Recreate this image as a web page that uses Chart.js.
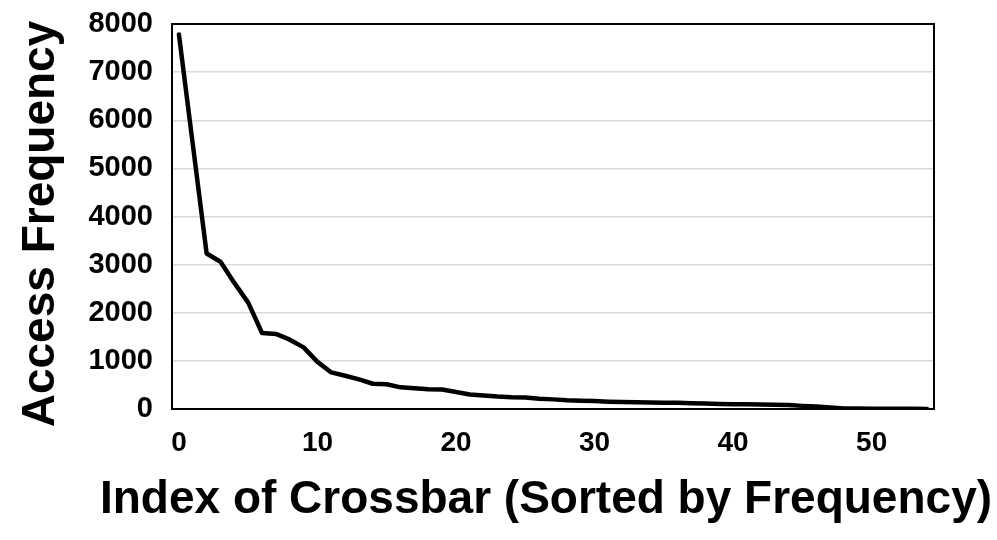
<!DOCTYPE html>
<html>
<head>
<meta charset="utf-8">
<script src="https://cdn.jsdelivr.net/npm/chart.js@4"></script>
<style>
  html, body { margin: 0; padding: 0; background: #fff; }
  #wrap { width: 997px; height: 540px; }
</style>
</head>
<body>
<div id="wrap"><canvas id="myChart" width="997" height="540"></canvas></div>
<script>
// crossbar index, sorted by how often it is hit
const crossbarIdx = [];
for (let i = 0; i <= 54; i++) crossbarIdx.push(String(i));

// access counts
const accessFreq = [
	7780, 5500, 3230, 3060, 2620, 2210, 1580, 1560, 1440, 1280,
	980, 760, 690, 615, 525, 515, 450, 430, 410, 405,
	355, 300, 280, 258, 243, 240, 215, 200, 180, 172,
	165, 153, 146, 140, 135, 130, 128, 120, 112, 105,
	100, 98, 95, 90, 82, 65, 50, 30, 12, 8,
	6, 5, 4, 3, 2
];

const yTicks = [0, 1000, 2000, 3000, 4000, 5000, 6000, 7000, 8000];

const xTitle = 'Index of Crossbar (Sorted by Frequency)';
const yTitle = 'Access Frequency';

const font = '"Liberation Sans", Arial, sans-serif';

// frame round the plot area + axis titles (chart.js squeezes long titles to the axis length, so draw them here)
const frame = {
	id: 'frame',
	afterDraw(chart) {
		const a = chart.chartArea;
		const ctx = chart.ctx;
		ctx.save();
		ctx.strokeStyle = '#000';
		ctx.lineWidth = 2;
		ctx.strokeRect(a.left, a.top, a.right - a.left, a.bottom - a.top);

		ctx.fillStyle = '#000';
		ctx.font = 'bold 46px ' + font;
		ctx.textBaseline = 'alphabetic';
		ctx.textAlign = 'center';
		ctx.fillText(xTitle, 546, 513);

		ctx.translate(54, 224);
		ctx.rotate(-Math.PI / 2);
		ctx.fillText(yTitle, 0, 0);
		ctx.restore();
	}
};

const data = {
	labels: crossbarIdx,
	datasets: [{
		label: 'Access Frequency',
		data: accessFreq,
		borderColor: '#000',
		backgroundColor: '#000',
		borderWidth: 4.5,
		borderJoinStyle: 'round',
		borderCapStyle: 'round',
		pointRadius: 0,
		tension: 0,
		fill: false
	}]
};

const config = {
	type: 'line',
	data,
	options: {
		responsive: false,
		animation: false,
		layout: { padding: { top: 24, right: 63, left: 0, bottom: 0 } },
		plugins: {
			legend: { display: false },
			tooltip: { enabled: false }
		},
		scales: {
			x: {
				type: 'category',
				offset: true,
				grid: { display: false, drawTicks: false },
				border: { display: false },
				ticks: {
					autoSkip: false,
					maxRotation: 0,
					padding: 17,
					color: '#000',
					font: { family: font, size: 28, weight: 'bold' },
					callback: (v, i) => (i % 10 === 0 ? crossbarIdx[i] : '')
				},
				afterFit: s => { s.height = 131; s.paddingLeft = 0; s.paddingRight = 0; }
			},
			y: {
				min: 0,
				max: 8000,
				grid: { color: '#d9d9d9', lineWidth: 1.5, drawTicks: false },
				border: { display: false },
				afterBuildTicks: s => { s.ticks = yTicks.map(v => ({ value: v })); },
				ticks: {
					padding: 19,
					color: '#000',
					font: { family: font, size: 29, weight: 'bold' },
					callback: v => String(v)
				},
				afterFit: s => { s.width = 172; s.paddingTop = 0; s.paddingBottom = 0; }
			}
		}
	},
	plugins: [frame]
};

var myChart = new Chart(document.getElementById('myChart'), config);
</script>
</body>
</html>
